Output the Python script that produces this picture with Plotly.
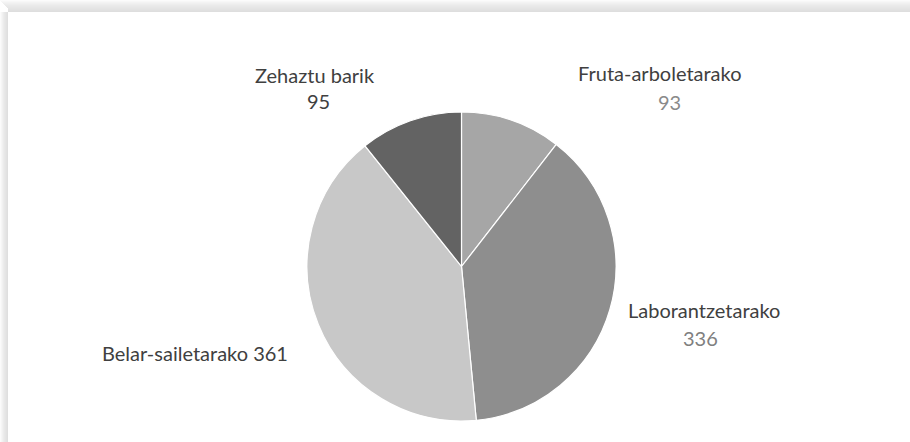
import plotly.graph_objects as go

categories = ["Fruta-arboletarako", "Laborantzetarako", "Belar-sailetarako", "Zehaztu barik"]
values = [93, 336, 361, 95]
slice_colors = ["#a6a6a6", "#8e8e8e", "#c8c8c8", "#636363"]

W, H = 910, 442

fig = go.Figure()

cx, cy, r = 461.5, 266.5, 154.5
fig.add_trace(go.Pie(
    labels=categories, values=values, sort=False, direction="clockwise", rotation=0,
    marker=dict(colors=slice_colors, line=dict(color="#ffffff", width=1.2)),
    textinfo="none", hoverinfo="label+value", showlegend=False,
    domain=dict(x=[(cx - r) / W, (cx + r) / W], y=[(H - cy - r) / H, (H - cy + r) / H]),
))

FONT = "Lato"
FS = 20
label_color = "#404040"
value_colors = ["#8a8a8a", "#808080", "#404040", "#404040"]
# label layout: (label x, label y, value x, value y) in pixels; None for inline value
label_pos = [
    (660, 73, 669, 102),
    (704, 310, 700, 338),
    (195, 353, None, None),
    (315, 75, 318, 101),
]

annotations = []
for cat, val, vc, pos in zip(categories, values, value_colors, label_pos):
    lx, ly, vx, vy = pos
    if vx is None:
        txt = f"{cat} {val}"
        annotations.append(dict(x=lx / W, y=1 - ly / H, xref="paper", yref="paper",
                                text=txt, showarrow=False, xanchor="center", yanchor="middle",
                                font=dict(family=FONT, size=FS, color=label_color)))
    else:
        annotations.append(dict(x=lx / W, y=1 - ly / H, xref="paper", yref="paper",
                                text=cat, showarrow=False, xanchor="center", yanchor="middle",
                                font=dict(family=FONT, size=FS, color=label_color)))
        annotations.append(dict(x=vx / W, y=1 - vy / H, xref="paper", yref="paper",
                                text=str(val), showarrow=False, xanchor="center", yanchor="middle",
                                font=dict(family=FONT, size=FS, color=vc)))

# frame shadow (top and left bands)
shapes = []
top_band, left_band = 12, 8
grays = ["#fbfbfb", "#f7f7f7", "#f3f3f3", "#f0f0f0", "#ededed", "#eaeaea",
         "#e8e8e8", "#e6e6e6", "#e4e4e4", "#e2e2e2", "#e0e0e0", "#dedede"]
for i in range(top_band):
    shapes.append(dict(type="rect", xref="paper", yref="paper",
                       x0=min(i, left_band) / W, x1=1, y0=1 - (i + 1) / H, y1=1 - i / H,
                       fillcolor=grays[i], line=dict(width=0), layer="below"))
lgrays = ["#fbfbfb", "#f6f6f6", "#f1f1f1", "#ececec", "#e8e8e8", "#e5e5e5", "#e2e2e2", "#dfdfdf"]
for i in range(left_band):
    shapes.append(dict(type="rect", xref="paper", yref="paper",
                       x0=i / W, x1=(i + 1) / W, y0=0, y1=1 - top_band / H,
                       fillcolor=lgrays[i], line=dict(width=0), layer="below"))

fig.update_layout(
    width=W, height=H,
    margin=dict(l=0, r=0, t=0, b=0),
    paper_bgcolor="#ffffff", plot_bgcolor="#ffffff",
    annotations=annotations, shapes=shapes,
)

fig.write_html("out.html", config={"displayModeBar": False},
               post_script="document.body.style.margin='0';document.body.style.overflow='hidden';")
